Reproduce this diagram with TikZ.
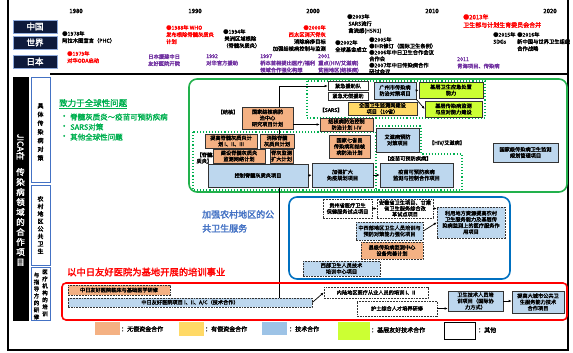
\documentclass[tikz,border=0pt]{standalone}
\usepackage{fontspec}
\setmainfont{Noto Sans CJK SC}[AutoFakeBold=2.2]
\usetikzlibrary{arrows.meta}
\definecolor{cSal}{HTML}{F4B183}
\definecolor{cYel}{HTML}{FFD966}
\definecolor{cBlu}{HTML}{BDD7EE}
\definecolor{cBluL}{HTML}{9DC3E6}
\definecolor{cLim}{HTML}{CCFF33}
\definecolor{cGrn}{HTML}{22B14C}
\definecolor{cGrT}{HTML}{00B050}
\definecolor{cBB}{HTML}{0070C0}
\definecolor{cBT}{HTML}{4472C4}
\definecolor{cRed}{HTML}{FF0000}
\definecolor{cPur}{HTML}{7030A0}
\definecolor{cNav}{HTML}{0E1A3C}
\definecolor{cLab}{HTML}{8EA9DB}
\newcommand\bxf{\fontsize{5.2}{6.2}\selectfont\bfseries}
\newcommand\tlf{\fontsize{5.3}{7}\selectfont\bfseries}
\newcommand\mybox[7]{\node[#6, minimum width={#4-#2}, minimum height={#5-#3}] (#1) at ({(#2+#4)/2},{(#3+#5)/2}) {#7};}
\tikzset{
  base/.style={draw=black!80, line width=0.6pt, inner sep=0.4pt, align=center, font=\bxf},
  bsal/.style={base, fill=cSal},
  byel/.style={base, fill=cYel},
  bblu/.style={base, fill=cBlu},
  blim/.style={base, fill=cLim},
  bwht/.style={base, fill=white},
  dsh/.style={dash pattern=on 1.8pt off 1pt},
  arr/.style={-{Latex[length=3pt,width=2.6pt]}, line width=0.7pt},
  tl/.style={anchor=north west, inner sep=0pt, align=left, font=\tlf},
  lab/.style={fill=cNav, draw=cLab, line width=0.6pt, text=white, font=\fontsize{8.5}{9}\selectfont\bfseries, inner sep=0pt},
  col/.style={draw=cBT, line width=0.9pt, fill=white},
  yr/.style={font=\fontsize{6}{7}\selectfont\bfseries, inner sep=0pt},
  gdot/.style={draw=cGrT, line width=1.1pt, dotted},
  lgt/.style={anchor=west, inner sep=0pt, font=\fontsize{6}{7}\selectfont\bfseries},
}
\begin{document}
\begin{tikzpicture}[x=1pt,y=-1pt]
\useasboundingbox (0,0) rectangle (573,353);
% frame
\draw[line width=2pt] (8,-4) -- (8,350) -- (568,350) -- (568,-4);
\draw[line width=2pt] (50,74) -- (568,74);
% years
\node[yr] (y80) at (76,11) {1980};
\node[yr] (y90) at (195,11) {1990};
\node[yr] (y00) at (313,11) {2000};
\node[yr] (y10) at (432,11) {2010};
\node[yr] (y20) at (550,11) {2020};
% row labels
\mybox{lcn}{13}{20}{57}{33}{lab}{中国}
\mybox{lwd}{13}{36}{57}{49}{lab}{世界}
\mybox{ljp}{13}{55}{57}{68}{lab}{日本}
% timeline events
\node[tl] (e1) at (62,31) {●1978年\\阿拉木图宣言（PHC）};
\node[tl, text=cRed] (e2) at (67,51) {●1979年\\对华ODA启动};
\node[tl, text=cPur] (e3) at (148,54) {日本援建中日\\友好医院开院};
\node[tl, text=cRed] (e4) at (166,25) {●1988年 WHO\\发布根除脊髓灰质炎\\计划};
\node[tl] (e5) at (223,29) {●1994年\\~美洲区域根除\\（脊髓灰质炎）};
\node[tl, text=cPur] (e6) at (206,54) {1992\\对华官方援助};
\node[tl, text=cPur] (e7) at (260,54) {1997\\桥本首相提出医疗/福利\\领域合作强化构想};
\node[tl, anchor=north east, align=right] (e8) at (326,25) {\textcolor{cRed}{●2000年}\\\textcolor{cRed}{~西太区消灭脊灰}\\~消除麻疹目标\\~加强结核病控制与监测};
\node[tl] (e9) at (335,40) {●2002年\\全球基金成立};
\node[tl] (e10) at (347,14) {●2003年\\~SARS流行\\~禽流感(H5N1)};
\node[tl, font=\fontsize{5.3}{6.4}\selectfont\bfseries] (e11) at (369,37) {●2005年\\●IHR修订（国际卫生条例）\\●2006年中日卫生合作会议\\合作会\\●2007年中日传染病合作\\研讨会议};
\node[tl, text=cPur] (e12) at (318,54) {2001\\重点(HIV/艾滋病)\\贫困地区(结核病)};
\node[tl, text=cRed, font=\fontsize{6}{8}\selectfont\bfseries] (e13) at (463,14) {●2013年\\卫生部与计划生育委员会合并};
\node[tl] (e14) at (493,32) {●2015年\\SDGs};
\node[tl] (e15) at (517,32) {●2016年\\新中国与世界卫生组织\\合作战略};
\node[tl, text=cPur] (e16) at (457,57) {2011\\青海项目、传染病};
% left columns
\draw[fill=black] (13,77) rectangle (28,320);
\draw[col] (31,77) rectangle (50,182);
\draw[col] (31,185) rectangle (50,265);
\draw[col] (31,267) rectangle (50,320);
\node[rotate=-90, text=white, font=\fontsize{8.5}{9}\selectfont\bfseries, inner sep=0pt] (jt) at (20.5,147) {JICA在};
\node[text=white, align=center, font=\fontsize{8.5}{10}\selectfont\bfseries, inner sep=0pt] (jt2) at (20.5,217) {传\\染\\病\\领\\域\\的\\合\\作\\项\\目};
\node[align=center, font=\fontsize{6}{8.7}\selectfont\bfseries, inner sep=0pt] (c1) at (40.5,132) {具\\体\\传\\染\\病\\对\\策};
\node[align=center, font=\fontsize{6}{7.5}\selectfont\bfseries, inner sep=0pt] (c2) at (40.5,225) {农\\村\\地\\区\\公\\共\\卫\\生};
\node[align=center, font=\fontsize{5.5}{7}\selectfont\bfseries, inner sep=0pt] (c3a) at (45,293) {医\\疗\\机\\构\\的\\培\\训};
\node[align=center, font=\fontsize{5.5}{7}\selectfont\bfseries, inner sep=0pt] (c3b) at (36.5,296) {与\\指\\导\\方\\的\\研\\修};
% green area
\draw[cGrn, line width=1.6pt, rounded corners=8pt] (189,79) rectangle (567,192);
\node[anchor=west, text=cGrT, font=\fontsize{8.5}{10}\selectfont\bfseries, inner sep=0pt] (gt) at (59,104) {\underline{致力于全球性问题}};
\node[anchor=west, text=cGrT, font=\fontsize{8}{9}\selectfont\bfseries, inner sep=0pt] (gb1) at (60,117) {·};
\node[anchor=west, text=cGrT, font=\fontsize{8}{9}\selectfont\bfseries, inner sep=0pt] (gb2) at (60,127) {·};
\node[anchor=west, text=cGrT, font=\fontsize{8}{9}\selectfont\bfseries, inner sep=0pt] (gb3) at (60,137) {·};
\node[anchor=west, text=cGrT, font=\fontsize{7.5}{9}\selectfont\bfseries, inner sep=0pt] (g1) at (70,117) {脊髓灰质炎～疫苗可预防疾病};
\node[anchor=west, text=cGrT, font=\fontsize{7.5}{9}\selectfont\bfseries, inner sep=0pt] (g2) at (70,127) {SARS对策};
\node[anchor=west, text=cGrT, font=\fontsize{7.5}{9}\selectfont\bfseries, inner sep=0pt] (g3) at (70,137) {其他全球性问题};
% dotted sub-areas
\draw[gdot] (307,81) rectangle (485,118);
\draw[gdot] (193,132) rectangle (376,190);
\draw[gdot] (376,126) -- (421,126) -- (421,154) -- (462,154) -- (462,190) -- (376,190);
% vertical trunk
\coordinate (vtop) at (279,86);
\coordinate (vbot) at (279,298);
\draw[line width=0.8pt] (vtop) -- (vbot);
% tuberculosis
\node[font=\bxf, inner sep=0pt] (ltb) at (228,112) {【结核】};
\mybox{tb}{242}{107}{293}{129}{bsal}{国家结核病防\\治中心\\研究项目计划}
\mybox{tb2}{320}{118}{373}{131}{bsal}{结核病防治控制\\防治计划 I-IV}
\draw[arr] (tb.east |- tb2.west) -- (tb2.west);
% SARS
\mybox{em1}{328}{81.5}{368}{90.5}{bwht}{紧急援助队}
\mybox{em2}{328}{92}{368}{100}{bwht}{紧急无偿援助}
\draw[arr] (vtop) -- (em1.west);
\node[font=\bxf, inner sep=0pt] (lsars) at (331,110) {【SARS】};
\mybox{ys}{348}{102}{417}{115}{byel}{全国卫生监测网建设\\项目（10省）}
\mybox{gz}{374}{82}{416}{99}{bblu}{广州市传染病\\防治对策项目}
\mybox{l1}{419}{82}{483}{98}{blim}{基层卫生应急处置\\能力}
\mybox{l2}{425}{101}{482}{117}{blim}{基层传染病监测\\与应对能力建设}
\draw[arr] (gz.east) -- (l1.west);
\draw[arr] (gz.south east) -- (l2.west);
% polio
\node[font=\bxf, align=left, inner sep=0pt] (lpo) at (207,158) {【脊髓灰\\质炎】};
\mybox{p1}{205}{134}{257}{148}{bsal}{提高脊髓灰质炎计\\划 I、II、III}
\mybox{p2}{260}{134}{294}{148}{bsal}{消除脊髓\\灰质炎计划}
\mybox{p3}{213}{149}{265}{163}{bsal}{建设脊髓灰质炎\\监测网络计划}
\mybox{p4}{270}{149}{293}{163}{bsal}{脊灰监测\\扩大计划}
\mybox{pb}{208}{164}{308}{187}{bblu}{控制脊髓灰质炎项目}
\mybox{s7}{329}{135}{370}{158}{bsal}{国家七省县\\传染病和结核\\病防治计划}
\mybox{ep}{312}{163}{373}{187}{bblu}{加强扩大\\免疫规划项目}
\mybox{hiv}{376}{128}{419}{152}{bblu}{艾滋病预防\\对策项目}
\node[font=\bxf, inner sep=0pt] (lhiv) at (447,143) {【HIV/艾滋病】};
\node[font=\bxf, inner sep=0pt] (lvac) at (408,158.5) {【疫苗可预防疾病】};
\mybox{vp}{380}{163}{453}{187}{bblu}{疫苗可预防疾病\\监测与控制合作项目}
\mybox{nat}{493}{143}{558}{162}{bblu}{国家级传染病卫生监测\\规划管理项目}
\draw[arr] (pb.east) -- (ep.west);
\draw[arr] (ep.east) -- (vp.west);
% rural area
\draw[cBB, line width=1.6pt, rounded corners=8pt] (289,197) rectangle (510,279);
\node[anchor=north west, align=left, text=cBT, font=\fontsize{9}{14}\selectfont\bfseries, inner sep=0pt] (rt) at (202,210) {加强农村地区的公\\共卫生服务};
\mybox{b1}{323}{199}{372}{218}{bwht,dsh}{贵州省医疗卫生\\保健服务试点项目}
\mybox{b2}{377}{199}{433}{218}{bwht,dsh,font=\fontsize{5.2}{5.8}\selectfont\bfseries}{安徽省卫生项目、甘肃\\省卫生服务综合改\\革试点项目}
\mybox{b3}{437}{207}{505}{238}{bblu,dsh}{利用地方资源提高农村\\卫生服务能力及基层传\\染病监测上的医疗服务作\\用项目}
\mybox{b4}{356}{222}{423}{240}{bblu,dsh}{中西部地区卫生人员培训与\\预防对策能力强化项目}
\mybox{b5}{361}{242}{423}{259}{bsal,dsh}{县级传染病监测中心\\设备完善计划}
\mybox{b6}{303}{261}{380}{276}{bblu,dsh}{西部卫生人员技术\\培训中心项目}
\draw[arr] (b1.east) -- (b2.west);
\draw[arr] (b2.east) -- (b2.east -| b3.west);
\draw[arr] (b4.east) -- (b3.west);
% training area
\node[anchor=west, text=cRed, font=\fontsize{9.3}{10}\selectfont\bfseries, inner sep=0pt] (redt) at (67,272) {以中日友好医院为基地开展的培训事业};
\draw[cRed, line width=1.6pt, rounded corners=4pt] (62,283) rectangle (567,320);
\mybox{r1}{68}{285}{170}{295}{bsal,dsh}{中日友好医院临床与基础医学研修}
\mybox{r2}{68}{298}{312}{307}{bblu,dsh}{中日友好医院项目 I、II、A/C（技术合作）}
\mybox{r3}{324}{287}{428}{298}{bwht,dsh}{内陆地区医疗从业人员的培训 I、II}
\mybox{r4}{357}{301}{437}{316}{bwht,dsh}{护士综合人才培养研修}
\mybox{r5}{448}{291}{503}{311}{bblu}{卫生技术人员培\\训项目（国际协\\力方式）}
\mybox{r6}{512}{291}{564}{313}{bblu}{提高大城市公共卫\\生服务能力技术\\合作项目}
\draw[arr] (r2.east) -- (r3.west);
\draw[arr] (r4.east) -- (r4.east -| r5.west);
\draw[arr] (r5.east) -- (r5.east -| r6.west);
% legend
\mybox{lg1}{95}{322}{120}{335}{fill=cSal}{}
\node[lgt] (lt1) at (121,329) {：无偿资金合作};
\mybox{lg2}{179}{322}{204}{336}{fill=cYel}{}
\node[lgt] (lt2) at (205,329) {：有偿资金合作};
\mybox{lg3}{262}{322}{287}{335}{fill=cBluL}{}
\node[lgt] (lt3) at (289,329) {：技术合作};
\mybox{lg4}{338}{322}{370}{340}{fill=cLim}{}
\node[lgt] (lt4) at (371,330) {：基层友好技术合作};
\mybox{lg5}{444}{322}{475}{339}{draw=black, line width=0.7pt}{}
\node[lgt] (lt5) at (478,330) {：其他};
\end{tikzpicture}
\end{document}
